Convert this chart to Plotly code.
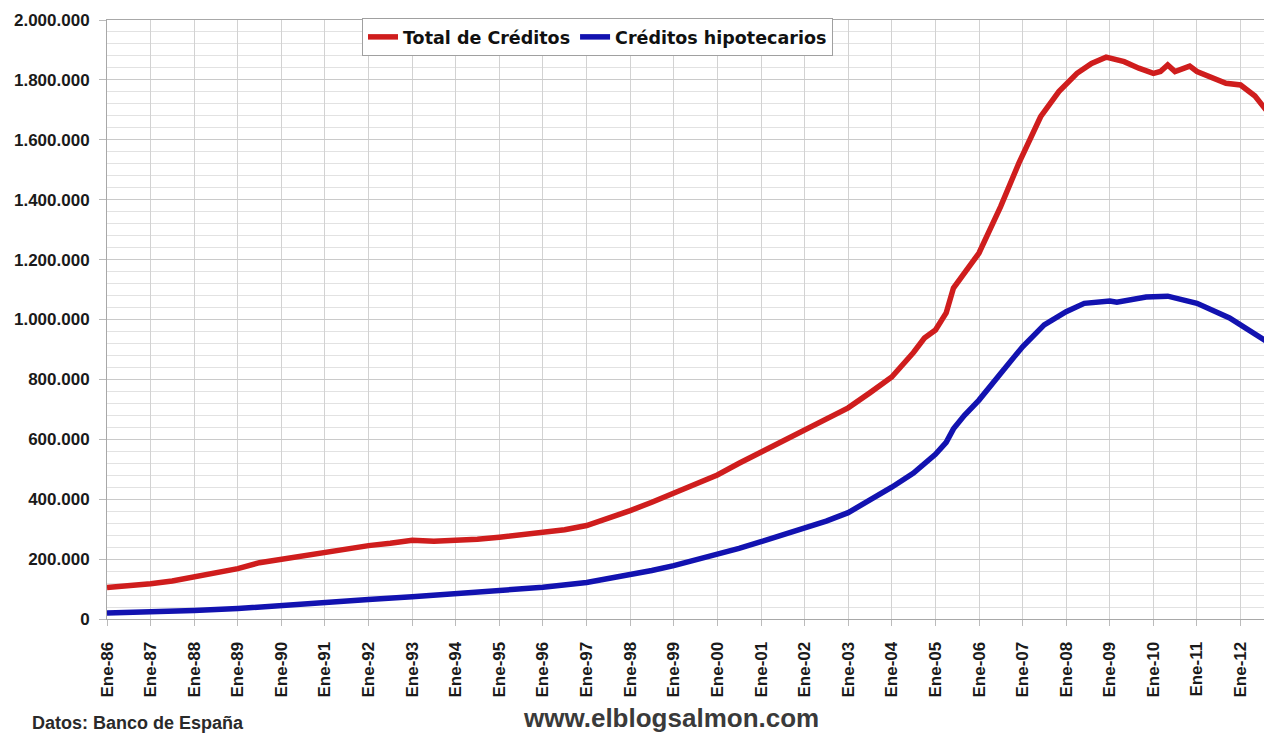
import plotly.graph_objects as go

# ---- data, values in millions of euros ----
fechas_total = [
    "1986-01", "1986-07", "1987-01", "1987-07", "1988-01", "1988-07", "1989-01", "1989-07",
    "1990-01", "1990-07", "1991-01", "1991-07", "1992-01", "1992-07", "1993-01", "1993-07",
    "1994-01", "1994-07", "1995-01", "1995-07", "1996-01", "1996-07", "1997-01", "1997-07",
    "1998-01", "1998-07", "1999-01", "1999-07", "2000-01", "2000-07", "2001-01", "2001-07",
    "2002-01", "2002-07", "2003-01", "2003-07", "2004-01", "2004-07", "2004-10", "2005-01",
    "2005-04", "2005-06", "2005-09", "2006-01", "2006-07", "2006-12", "2007-06", "2007-11",
    "2008-04", "2008-08", "2008-12", "2009-05", "2009-09", "2010-01", "2010-03", "2010-05",
    "2010-07", "2010-11", "2011-01", "2011-05", "2011-09", "2012-01", "2012-03", "2012-05",
    "2012-08",
]
total_creditos = [
    105000, 110000, 118000, 127000, 140000, 152000, 168000, 188000,
    200000, 210000, 222000, 234000, 245000, 253000, 263000, 260000,
    261000, 266000, 273000, 280000, 288000, 298000, 312000, 335000,
    362000, 390000, 420000, 450000, 481000, 520000, 557000, 592000,
    628000, 665000, 705000, 755000, 808000, 890000, 938000, 965000,
    1022000, 1105000, 1155000, 1222000, 1377000, 1522000, 1677000, 1761000,
    1822000, 1855000, 1876000, 1861000, 1839000, 1822000, 1828000, 1850000,
    1828000, 1846000, 1828000, 1811000, 1789000, 1783000, 1766000, 1746000,
    1700000,
]

fechas_hipo = [
    "1986-01", "1987-01", "1988-01", "1989-01", "1990-01", "1991-01", "1992-01", "1993-01",
    "1994-01", "1995-01", "1996-01", "1997-01", "1997-07", "1998-01", "1998-07", "1999-01",
    "1999-07", "2000-01", "2000-07", "2001-01", "2001-07", "2002-01", "2002-07", "2003-01",
    "2003-07", "2004-01", "2004-07", "2005-01", "2005-04", "2005-06", "2005-09", "2006-01",
    "2006-07", "2007-01", "2007-07", "2008-01", "2008-06", "2009-01", "2009-03", "2009-11",
    "2010-05", "2011-01", "2011-10", "2012-08",
]
creditos_hipotecarios = [
    20000, 23000, 28000, 35000, 46000, 56000, 65000, 74000,
    84000, 95000, 106000, 122000, 134000, 148000, 162000, 178000,
    196000, 215000, 236000, 258000, 280000, 302000, 327000, 355000,
    395000, 440000, 487000, 550000, 590000, 635000, 680000, 731000,
    820000, 909000, 982000, 1026000, 1054000, 1062000, 1058000, 1075000,
    1078000, 1054000, 1005000, 928000,
]

anios_ticks = [f"{a}-01-01" for a in range(1986, 2013)]
etiquetas_x = ["Ene-%02d" % (a % 100) for a in range(1986, 2013)]

# ---- figure ----
fig = go.Figure()
fig.add_trace(go.Scatter(
    x=fechas_total, y=total_creditos, mode="lines", name="Total de Créditos",
    line=dict(color="#cf1d1d", width=5.5),
))
fig.add_trace(go.Scatter(
    x=fechas_hipo, y=creditos_hipotecarios, mode="lines", name="Créditos hipotecarios",
    line=dict(color="#1212b0", width=5.5),
))

# the page body has an 8px margin, so the figure is drawn at (8, 8)
OFF = 8
W, H = 1272 - OFF, 736 - OFF
L, T = 107 - OFF, 20 - OFF
R = W - (1268 - OFF)
B = H - (619 - OFF)
pw, ph = W - L - R, H - T - B

def px(xp):
    return (xp - OFF - L) / pw

def py(yp):
    return (H - B - (yp - OFF)) / ph

tick_font = dict(family="Liberation Sans, Arial, sans-serif", size=17, color="#1a1a1a", weight="bold")

fig.update_layout(
    width=W, height=H,
    margin=dict(l=L, r=R, t=T, b=B),
    paper_bgcolor="white", plot_bgcolor="white",
    separators=",.",
    showlegend=True,
    legend=dict(
        orientation="h", x=px(362), y=py(18), xanchor="left", yanchor="top",
        bgcolor="white", bordercolor="#a0a0a0", borderwidth=1,
        font=dict(family="DejaVu Sans, Verdana, sans-serif", size=17.5, color="#111111", weight="bold"),
        itemwidth=30, tracegroupgap=0,
    ),
    xaxis=dict(
        type="date", range=["1986-01-01", "2012-08-18"],
        tickmode="array", tickvals=anios_ticks, ticktext=etiquetas_x,
        tickangle=-90, tickfont=tick_font, ticklabelstandoff=9,
        showgrid=True, gridcolor="#d2d2d2", gridwidth=1,
        showline=True, linecolor="#a8a8a8", linewidth=1, mirror=True,
        ticks="outside", ticklen=6, tickcolor="#bbbbbb",
        zeroline=False, fixedrange=True,
    ),
    yaxis=dict(
        range=[0, 2000000], dtick=200000, tick0=0, tickformat=",d",
        tickfont=tick_font, ticklabelstandoff=6,
        showgrid=True, gridcolor="#cacaca", gridwidth=1,
        minor=dict(dtick=40000, tick0=0, showgrid=True, gridcolor="#e2e2e2", gridwidth=1),
        showline=True, linecolor="#a8a8a8", linewidth=1, mirror=True,
        ticks="outside", ticklen=7, tickcolor="#bbbbbb",
        zeroline=False, fixedrange=True,
    ),
    annotations=[
        dict(text="Datos: Banco de España", xref="paper", yref="paper",
             x=px(30), y=py(723), xanchor="left", yanchor="middle", showarrow=False,
             font=dict(family="Liberation Sans, Arial, sans-serif", size=18, color="#2a2a2a", weight="bold")),
        dict(text="www.elblogsalmon.com", xref="paper", yref="paper",
             x=px(671), y=py(718), xanchor="center", yanchor="middle", showarrow=False,
             font=dict(family="Liberation Sans, Arial, sans-serif", size=26, color="#3a3a3a", weight="bold")),
    ],
)

fig.write_html("out.html")
